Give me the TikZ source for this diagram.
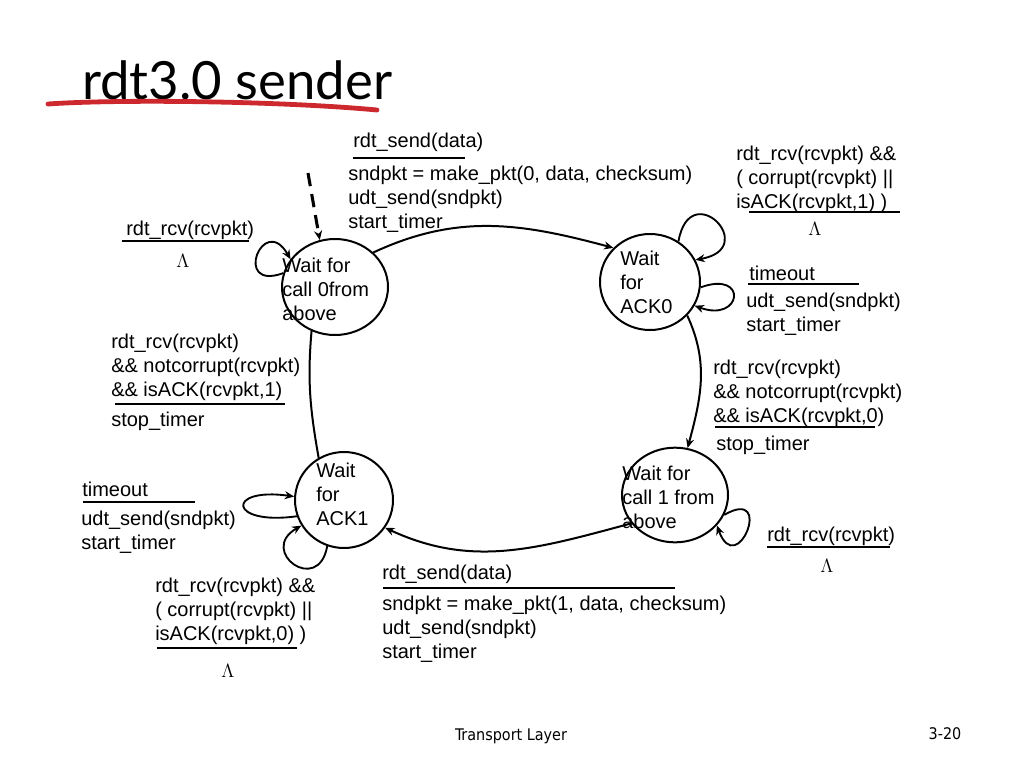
\documentclass[tikz,border=0pt]{standalone}
\usepackage{fontspec}
\setmainfont{Liberation Sans}
\newfontfamily\titlefont{Lato}
\newfontfamily\footfont{DejaVu Sans Condensed}
\usetikzlibrary{shapes.geometric}
\usetikzlibrary{arrows.meta}
\definecolor{penred}{RGB}{204,40,46}
\tikzset{st/.style={draw,ellipse,line width=1.5pt,inner sep=0pt}}
\tikzset{txt/.style={anchor=north west,inner sep=0pt,align=left,yshift=-2.25pt,font=\fontsize{15}{18}\selectfont}}
\tikzset{lam/.style={inner sep=0pt,font=\fontsize{15}{18}\selectfont}}
\tikzset{bar/.style={line width=2.2pt}}
\tikzset{tr/.style={-{Stealth[length=7pt,width=6pt]},line width=1.5pt}}
\tikzset{lp/.style={tr,line width=1.4pt}}
\begin{document}
\begin{tikzpicture}[x=0.75pt,y=-0.75pt]
\fill[white] (0,0) rectangle (1024,768);
\useasboundingbox (0,0) rectangle (1024,768);

% title
\node[anchor=base west,inner sep=0pt,font=\titlefont\fontsize{39.5}{45}\selectfont] (ttl) at (82,99) {rdt3.0 sender};
\draw[penred,line width=3.6pt,line cap=round] (48,104) .. controls (120,99) and (280,101) .. (377,110);

% states
\node[st,minimum width=79.5pt,minimum height=72pt] (call0) at (335,287) {};
\node[st,minimum width=75pt,minimum height=72pt] (ack0) at (650,282) {};
\node[st,minimum width=73.5pt,minimum height=72pt] (ack1) at (344,500) {};
\node[st,minimum width=79.5pt,minimum height=71pt] (call1) at (675,495) {};

\node[txt] (tcall0) at (282,255) {Wait for\\call 0from\\above};
\node[txt] (tack0) at (620,248) {Wait\\for\\ACK0};
\node[txt] (tack1) at (316,460) {Wait\\for\\ACK1};
\node[txt] (tcall1) at (622,463) {Wait for\\call 1 from\\above};

% transitions
\coordinate (init) at (308,173);
\draw[tr,line width=2.3pt,dash pattern=on 10pt off 6pt] (init) -- (call0.108);
\draw[tr] (call0.42) to[out=25,in=165] (ack0.137);
\draw[tr] (ack0.-42) to[out=-65,in=75] (call1.75);
\draw[tr] (call1.213) to[out=-165,in=-25] (ack1.-34);
\draw[line width=1.5pt] (call0.242) to[out=-95,in=100] (ack1.121);

% self loops
\draw[lp] (call0.165) to[out=200,in=120,distance=41pt] (call0.148);
\draw[lp] (ack0.55) to[out=80,in=10,distance=50pt] (ack0.26);
\draw[lp] (ack0.-6) to[out=20,in=-20,distance=38pt] (ack0.-28);
\draw[lp] (ack1.199) to[out=188,in=172,distance=52pt] (ack1.176);
\draw[lp] (ack1.250) to[out=-100,in=210,distance=38pt] (ack1.211);
\draw[lp] (call1.-22) to[out=30,in=-70,distance=44pt] (call1.-36);

% call 0 -> ack 0
\node[txt] (sd0) at (353,130) {rdt\_send(data)};
\draw[bar] (353,158) -- (465,158);
\node[txt] (act0) at (348,163) {sndpkt = make\_pkt(0, data, checksum)\\udt\_send(sndpkt)\\start\_timer};

% call 0 loop
\node[txt] (rcv0) at (126,218) {rdt\_rcv(rcvpkt)};
\draw[bar] (122,241) -- (249,241);
\node[lam] (lam0) at (183,261) {$\Lambda$};

% ack 0 loops
\node[txt] (bad0) at (736,143) {rdt\_rcv(rcvpkt) \&\&\\( corrupt(rcvpkt) ||\\isACK(rcvpkt,1) )};
\draw[bar] (749,212) -- (900,212);
\node[lam] (lam1) at (815,229) {$\Lambda$};
\node[txt] (to0) at (749,263) {timeout};
\draw[bar] (748,284) -- (859,284);
\node[txt] (rs0) at (746,290) {udt\_send(sndpkt)\\start\_timer};

% ack 0 -> call 1
\node[txt] (ok0) at (713,357) {rdt\_rcv(rcvpkt)\\\&\& notcorrupt(rcvpkt)\\\&\& isACK(rcvpkt,0)};
\draw[bar] (715,427) -- (875,427);
\node[txt] (stp0) at (716,433) {stop\_timer};

% call 1 loop
\node[txt] (rcv1) at (767,524) {rdt\_rcv(rcvpkt)};
\draw[bar] (767,547) -- (890,547);
\node[lam] (lam2) at (827,566) {$\Lambda$};

% call 1 -> ack 1
\node[txt] (sd1) at (382,562) {rdt\_send(data)};
\draw[bar] (383,588) -- (675,588);
\node[txt] (act1) at (382,593) {sndpkt = make\_pkt(1, data, checksum)\\udt\_send(sndpkt)\\start\_timer};

% ack 1 loops
\node[txt] (to1) at (82,479) {timeout};
\draw[bar] (83,502) -- (195,502);
\node[txt] (rs1) at (81,508) {udt\_send(sndpkt)\\start\_timer};
\node[txt] (bad1) at (155,575) {rdt\_rcv(rcvpkt) \&\&\\( corrupt(rcvpkt) ||\\isACK(rcvpkt,0) )};
\draw[bar] (157,648) -- (297,648);
\node[lam] (lam3) at (228,671) {$\Lambda$};

% ack 1 -> call 0
\node[txt] (ok1) at (111,331) {rdt\_rcv(rcvpkt)\\\&\& notcorrupt(rcvpkt)\\\&\& isACK(rcvpkt,1)};
\draw[bar] (115,404) -- (285,404);
\node[txt] (stp1) at (111,409) {stop\_timer};

% footer
\node[anchor=base,inner sep=0pt,font=\footfont\fontsize{12}{14}\selectfont] (foot) at (511,740) {Transport Layer};
\node[anchor=base,inner sep=0pt,font=\footfont\fontsize{12}{14}\selectfont] (pg) at (945,739) {3-20};
\end{tikzpicture}
\end{document}
